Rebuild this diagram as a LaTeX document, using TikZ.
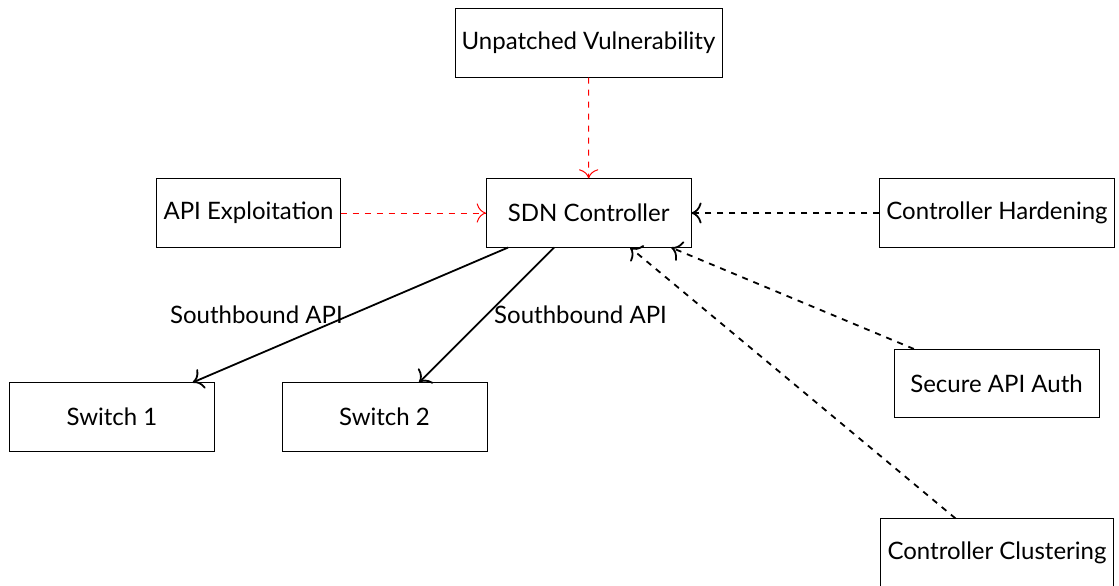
\documentclass[tikz,border=0pt]{standalone}
\usepackage{fontspec}
\setmainfont{Lato}
\usetikzlibrary{arrows.meta}
\begin{document}
\begin{tikzpicture}[x=0.5pt, y=-0.5pt,
  font=\fontsize{12}{14.4}\selectfont,
  box/.style={draw, rectangle, minimum width=3.6cm, minimum height=1.2cm},
  threat/.style={draw, rectangle, minimum height=1.2cm},
  attack/.style={-{To[scale=1.7]}, red, dashed, line width=0.5pt},
  defend/.style={-{To[scale=1.4]}, dashed, line width=0.9pt},
  link/.style={-{To[scale=1.4]}, line width=0.9pt}]
  \useasboundingbox (0,0) rectangle (1119,585);

  % threats
  \node[threat] (vuln) at (588.5,43) {Unpatched Vulnerability};
  \node[threat] (apiexp) at (248.5,213) {API Exploitation};

  % controller and switches
  \node[box] (sdn) at (588.7,213) {SDN Controller};
  \node[box] (sw1) at (112,417) {Switch 1};
  \node[box] (sw2) at (384.5,417) {Switch 2};

  % mitigations
  \node[box] (harden) at (997,213) {Controller Hardening};
  \node[box] (auth) at (996.5,383.5) {Secure API Auth};
  \node[box] (cluster) at (997,553) {Controller Clustering};

  \draw[attack] (vuln) -- (sdn);
  \draw[attack] (apiexp) -- (sdn);

  \draw[link] (sdn) -- node[midway, left] {Southbound API} (sw1);
  \draw[link] (sdn) -- node[midway, right] {Southbound API} (sw2);

  \draw[defend] (harden) -- (sdn);
  \draw[defend] (auth) -- (sdn);
  \draw[defend] (cluster) -- (sdn);
\end{tikzpicture}
\end{document}
